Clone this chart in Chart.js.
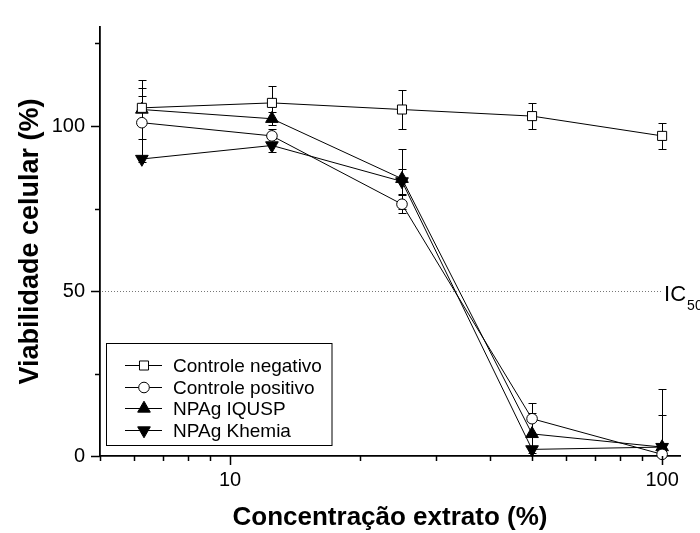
<!DOCTYPE html>
<html lang="pt">
<head>
  <meta charset="UTF-8" />
  <title>Viabilidade celular</title>
  <script src="https://cdn.jsdelivr.net/npm/chart.js"></script>
  <style>
    body { margin: 0; background: #fff; }
    canvas { display: block; }
  </style>
</head>
<body>
<canvas id="grafico" width="700" height="533"></canvas>

<script>
const concentracao = [6.25, 12.5, 25, 50, 100];

const controleNegativo = [105.5, 107, 105, 103, 97];
const controleNegativoErro = [3.6, 5, 6, 4, 4];
const controlePositivo = [101, 97, 76.3, 11.3, 0.5];
const controlePositivoErro = [10.6, 2, 2.7, 4.7, 12];
const npagIqusp = [105, 102.2, 84, 6.7, 2.7];
const npagIquspErro = [9, 2, 9, 6.3, 17.5];
const npagKhemia = [90, 94.1, 83.2, 2, 2.7];
const npagKhemiaErro = [1, 2, 3.9, 1, 1];

const xTicks = [5, 6, 7, 8, 9, 10, 20, 30, 40, 50, 60, 70, 80, 90, 100];
const xLabels = [10, 100];
const yTicks = [0, 25, 50, 75, 100, 125];
const yLabels = [0, 50, 100];
const ic50 = 50;

const fonte = "'Liberation Sans', Arial, sans-serif";

function serie(label, valores, erros, style, rotation, radius, fill) {
  return {
    label: label,
    data: concentracao.map((x, i) => ({ x: x, y: valores[i] })),
    erros: erros,
    borderColor: '#000',
    borderWidth: 1,
    pointStyle: style,
    rotation: rotation,
    pointRadius: radius,
    pointBorderWidth: 1,
    pointBorderColor: '#000',
    pointBackgroundColor: fill,
    tension: 0,
    clip: false
  };
}

// simple marker for the legend box
function marcador(ctx, ds, x, y) {
  const r = ds.pointRadius;
  ctx.beginPath();
  if (ds.pointStyle === 'rect') {
    const s = r * Math.SQRT1_2;
    ctx.rect(x - s, y - s, 2 * s, 2 * s);
  } else if (ds.pointStyle === 'circle') {
    ctx.arc(x, y, r, 0, Math.PI * 2);
  } else {
    const d = ds.rotation === 180 ? -1 : 1;
    ctx.moveTo(x, y - d * r);
    ctx.lineTo(x + r * Math.sin(Math.PI / 3), y + d * r / 2);
    ctx.lineTo(x - r * Math.sin(Math.PI / 3), y + d * r / 2);
    ctx.closePath();
  }
  ctx.fillStyle = ds.pointBackgroundColor;
  ctx.fill();
  ctx.lineWidth = 1;
  ctx.strokeStyle = '#000';
  ctx.stroke();
}

const extras = {
  id: 'extras',
  beforeDatasetsDraw(chart) {
    const { ctx, chartArea: a, scales: { x, y } } = chart;
    ctx.save();
    // IC50 dotted line
    ctx.strokeStyle = '#777';
    ctx.lineWidth = 1;
    ctx.setLineDash([1, 2]);
    const yi = Math.round(y.getPixelForValue(ic50)) + 0.5;
    ctx.beginPath();
    ctx.moveTo(a.left + 2, yi);
    ctx.lineTo(x.getPixelForValue(100), yi);
    ctx.stroke();
    ctx.setLineDash([]);

    // error bars
    ctx.beginPath();
    ctx.rect(a.left, a.top - 10, a.right - a.left, a.bottom - a.top + 10);
    ctx.clip();
    ctx.strokeStyle = '#000';
    ctx.lineWidth = 1;
    chart.data.datasets.forEach(ds => {
      ds.data.forEach((p, i) => {
        const e = ds.erros[i];
        const px = Math.round(x.getPixelForValue(p.x)) + 0.5;
        const y1 = Math.round(y.getPixelForValue(p.y + e)) + 0.5;
        const y2 = Math.round(y.getPixelForValue(p.y - e)) + 0.5;
        ctx.beginPath();
        ctx.moveTo(px, y1); ctx.lineTo(px, y2);
        ctx.moveTo(px - 4, y1); ctx.lineTo(px + 4, y1);
        ctx.moveTo(px - 4, y2); ctx.lineTo(px + 4, y2);
        ctx.stroke();
      });
    });
    ctx.restore();
  },
  afterDraw(chart) {
    const { ctx, chartArea: a, scales: { x, y } } = chart;
    ctx.save();
    ctx.strokeStyle = '#000';
    ctx.lineWidth = 1.5;
    ctx.beginPath();
    xTicks.forEach(v => {
      const px = Math.round(x.getPixelForValue(v)) + 0.5;
      const len = xLabels.includes(v) ? 9 : 5;
      ctx.moveTo(px, a.bottom);
      ctx.lineTo(px, a.bottom + len);
    });
    yTicks.forEach(v => {
      const py = Math.round(y.getPixelForValue(v)) + 0.5;
      const len = yLabels.includes(v) ? 9 : 5;
      ctx.moveTo(a.left, py);
      ctx.lineTo(a.left - len, py);
    });
    ctx.stroke();

    // IC50 label
    const xi = x.getPixelForValue(100) + 2;
    const yi = y.getPixelForValue(ic50);
    ctx.fillStyle = '#000';
    ctx.textBaseline = 'alphabetic';
    ctx.textAlign = 'left';
    ctx.font = '22px ' + fonte;
    ctx.fillText('IC', xi, yi + 10);
    const w = ctx.measureText('IC').width;
    ctx.font = '14px ' + fonte;
    ctx.fillText('50', xi + w + 1, yi + 19);

    // legend
    const box = { left: 106.5, top: 343.5, width: 225.5, height: 102 };
    ctx.lineWidth = 1;
    ctx.strokeRect(box.left, box.top, box.width, box.height);
    ctx.font = '19px ' + fonte;
    ctx.textBaseline = 'middle';
    chart.data.datasets.forEach((ds, i) => {
      const ly = Math.round(365 + i * 21.7) + 0.5;
      ctx.beginPath();
      ctx.moveTo(125, ly);
      ctx.lineTo(162, ly);
      ctx.strokeStyle = '#000';
      ctx.stroke();
      marcador(ctx, ds, 144, ly);
      ctx.fillStyle = '#000';
      ctx.fillText(ds.label, 173, ly + 1);
    });
    ctx.restore();
  }
};

new Chart(document.getElementById('grafico'), {
  type: 'line',
  data: {
    datasets: [
      serie('Controle negativo', controleNegativo, controleNegativoErro, 'rect', 0, 6.4, '#fff'),
      serie('Controle positivo', controlePositivo, controlePositivoErro, 'circle', 0, 5.3, '#fff'),
      serie('NPAg IQUSP', npagIqusp, npagIquspErro, 'triangle', 0, 7.3, '#000'),
      serie('NPAg Khemia', npagKhemia, npagKhemiaErro, 'triangle', 180, 7.3, '#000')
    ]
  },
  options: {
    responsive: false,
    animation: false,
    layout: { padding: { top: 14, right: 20, left: 0, bottom: 0 } },
    plugins: { legend: { display: false }, tooltip: { enabled: false } },
    scales: {
      x: {
        type: 'logarithmic',
        min: 5,
        max: 110,
        afterBuildTicks: s => { s.ticks = xTicks.map(v => ({ value: v })); },
        afterFit: s => { s.height = 77; },
        grid: { display: false, drawTicks: false },
        border: { display: true, color: '#000', width: 1.8 },
        ticks: {
          autoSkip: false,
          maxRotation: 0,
          padding: 12,
          color: '#000',
          font: { family: fonte, size: 20 },
          callback: v => xLabels.includes(v) ? String(v) : ''
        },
        title: {
          display: true,
          text: 'Concentração extrato (%)',
          color: '#000',
          font: { family: fonte, size: 26, weight: 'bold', lineHeight: 1.1 },
          padding: { top: 0, bottom: 1 }
        }
      },
      y: {
        min: 0,
        max: 130,
        afterBuildTicks: s => { s.ticks = yTicks.map(v => ({ value: v })); },
        afterFit: s => { s.width = 100; },
        grid: { display: false, drawTicks: false },
        border: { display: true, color: '#000', width: 1.8 },
        ticks: {
          autoSkip: false,
          padding: 15,
          color: '#000',
          font: { family: fonte, size: 20 },
          callback: v => yLabels.includes(v) ? String(v) : ''
        },
        title: {
          display: true,
          text: 'Viabilidade celular (%)',
          color: '#000',
          font: { family: fonte, size: 27, weight: 'bold', lineHeight: 1.2 },
          padding: { top: 14, bottom: 0 }
        }
      }
    }
  },
  plugins: [extras]
});
</script>
</body>
</html>
